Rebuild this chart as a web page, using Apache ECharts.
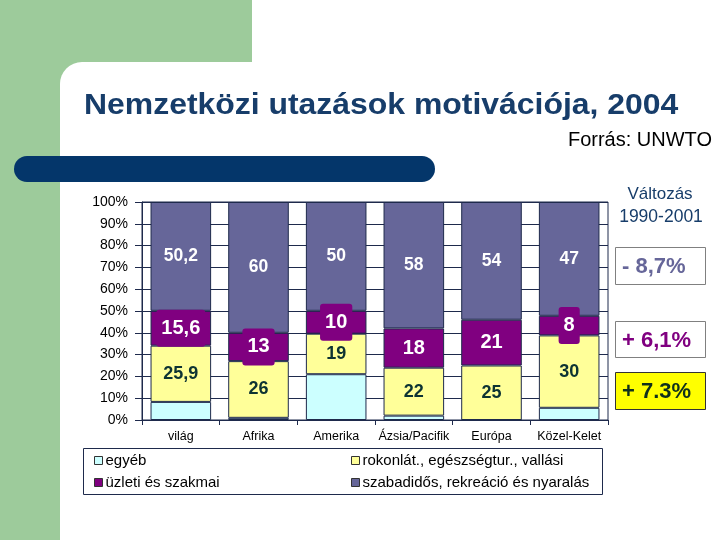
<!DOCTYPE html>
<html><head><meta charset="utf-8">
<script src="https://cdn.jsdelivr.net/npm/echarts@6/dist/echarts.min.js"></script>
<style>
html,body{margin:0;padding:0;background:#fff;}
#bg1{position:absolute;left:0;top:0;width:252px;height:90px;background:#9dcb9b;}
#bg2{position:absolute;left:0;top:0;width:60px;height:540px;background:#9dcb9b;}
#bg3{position:absolute;left:60px;top:62px;width:660px;height:478px;background:#fff;border-top-left-radius:22px;}
#bar{position:absolute;left:14px;top:156px;width:421px;height:26px;background:#04366a;border-radius:13px;}
#c{position:absolute;left:0;top:0;width:720px;height:540px;}
</style>
</head><body>
<div id="bg1"></div><div id="bg2"></div><div id="bg3"></div><div id="bar"></div>
<div id="c"></div>
<script>
const categories = ['világ', 'Afrika', 'Amerika', 'Ázsia/Pacifik', 'Európa', 'Közel-Kelet'];
const seriesNames = ['egyéb', 'rokonlát., egészségtur., vallási', 'üzleti és szakmai', 'szabadidős, rekreáció és nyaralás'];
const egyeb  = [8.3, 1, 21, 2, 0, 5.6];
const rokon  = [25.8, 26, 18.6, 22, 25, 33.2];
const uzleti = [16, 13, 10.5, 18, 21, 9];
const szabad = [49.9, 60, 49.9, 58, 54, 52.2];
const rokonLabels  = ['25,9', '26', '19', '22', '25', '30'];
const uzletiLabels = ['15,6', '13', '10', '18', '21', '8'];
const szabadLabels = ['50,2', '60', '50', '58', '54', '47'];
const yTicks = [0, 10, 20, 30, 40, 50, 60, 70, 80, 90, 100];
const changeHeader = ['Változás', '1990-2001'];
const changeLabels = ['- 8,7%', '+ 6,1%', '+ 7.3%'];

const F = '"Liberation Sans", Arial, sans-serif';
const NAVY = '#1e2a4c';
const colors = ['#ccffff', '#ffff99', '#800080', '#666699'];

const chart = echarts.init(document.getElementById('c'));
const border = {borderColor: NAVY, borderWidth: 1};

const option = {
  backgroundColor: 'transparent',
  animation: false,
  grid: {left: 142, right: 112, top: 202, bottom: 120, show: true, borderColor: NAVY, borderWidth: 1, backgroundColor: 'transparent'},
  xAxis: {
    type: 'category', data: categories,
    axisLine: {lineStyle: {color: NAVY, width: 1}},
    axisTick: {show: true, length: 5, lineStyle: {color: NAVY}},
    axisLabel: {color: '#000', fontFamily: F, fontSize: 12.5, margin: 10, interval: 0}
  },
  yAxis: {
    type: 'value', min: yTicks[0], max: yTicks[yTicks.length - 1], interval: 10,
    axisLine: {show: true, lineStyle: {color: NAVY, width: 1}},
    axisTick: {show: true, length: 7, lineStyle: {color: NAVY}},
    axisLabel: {color: '#000', fontFamily: F, fontSize: 14, margin: 14, formatter: v => v + '%'},
    splitLine: {show: true, lineStyle: {color: NAVY, width: 1}}
  },
  legend: [
    {data: [seriesNames[0]], left: 94, top: 453},
    {data: [seriesNames[1]], left: 351, top: 453},
    {data: [seriesNames[2]], left: 94, top: 475},
    {data: [seriesNames[3]], left: 351, top: 475}
  ].map(l => Object.assign(l, {
    orient: 'horizontal', padding: 0, itemWidth: 8, itemHeight: 8, icon: 'rect',
    itemStyle: {borderColor: '#333', borderWidth: 1},
    textStyle: {fontFamily: F, fontSize: 15, color: '#000', padding: [0, 0, 0, -2]}
  })),
  series: [
    {name: seriesNames[0], type: 'bar', stack: 's', data: egyeb, barCategoryGap: '22%',
     itemStyle: Object.assign({color: colors[0]}, border)},
    {name: seriesNames[1], type: 'bar', stack: 's', data: rokon,
     itemStyle: Object.assign({color: colors[1]}, border),
     label: {show: true, position: 'inside', formatter: p => rokonLabels[p.dataIndex],
             color: '#0d3333', fontFamily: F, fontWeight: 'bold', fontSize: 18}},
    {name: seriesNames[2], type: 'bar', stack: 's', data: uzleti, z: 3,
     itemStyle: Object.assign({color: colors[2]}, border),
     label: {show: true, position: 'inside', formatter: p => uzletiLabels[p.dataIndex],
             color: '#fff', fontFamily: F, fontWeight: 'bold', fontSize: 20,
             backgroundColor: colors[2], padding: [9, 5, 8, 5], borderRadius: 3}},
    {name: seriesNames[3], type: 'bar', stack: 's', data: szabad,
     itemStyle: Object.assign({color: colors[3]}, border),
     label: {show: true, position: 'inside', formatter: p => szabadLabels[p.dataIndex],
             color: '#fff', fontFamily: F, fontWeight: 'bold', fontSize: 17.5}}
  ],
  graphic: [
    {type: 'text', x: 84, y: 91, scaleX: 1.064, z: 100, style: {text: 'Nemzetközi utazások motivációja, 2004', font: 'bold 30px ' + F, fill: '#173d6a'}},
    {type: 'text', right: 8, top: 130, z: 100, style: {text: 'Forrás: UNWTO', font: '20px ' + F, fill: '#000'}},
    {type: 'text', z: 100, style: {x: 660, y: 194, text: changeHeader[0], font: '17px ' + F, fill: '#173d6a', align: 'center', verticalAlign: 'middle'}},
    {type: 'text', z: 100, style: {x: 661, y: 217, text: changeHeader[1], font: '17.5px ' + F, fill: '#173d6a', align: 'center', verticalAlign: 'middle'}},
    {type: 'rect', z: 100, shape: {x: 615.5, y: 247.5, width: 90, height: 37}, style: {fill: '#fff', stroke: '#808080', lineWidth: 1}},
    {type: 'text', z: 101, style: {x: 622, y: 267, text: changeLabels[0], font: 'bold 22px ' + F, fill: '#666699', verticalAlign: 'middle'}},
    {type: 'rect', z: 100, shape: {x: 615.5, y: 321.5, width: 90, height: 36}, style: {fill: '#fff', stroke: '#808080', lineWidth: 1}},
    {type: 'text', z: 101, style: {x: 622, y: 341, text: changeLabels[1], font: 'bold 22px ' + F, fill: '#800080', verticalAlign: 'middle'}},
    {type: 'rect', z: 100, shape: {x: 615.5, y: 372.5, width: 90, height: 37}, style: {fill: '#ffff00', stroke: '#333', lineWidth: 1}},
    {type: 'text', z: 101, style: {x: 622, y: 392, text: changeLabels[2], font: 'bold 22px ' + F, fill: '#10301c', verticalAlign: 'middle'}},
    {type: 'rect', z: 100, shape: {x: 83.5, y: 448.5, width: 519, height: 46}, style: {fill: 'none', stroke: NAVY, lineWidth: 1}}
  ]
};
chart.setOption(option);
</script>
</body></html>
